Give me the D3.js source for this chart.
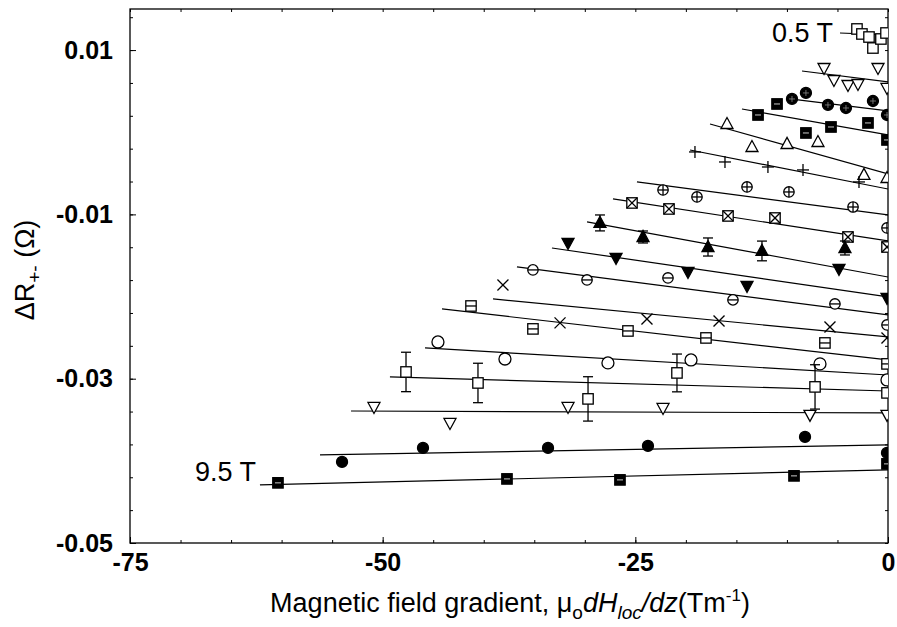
<!DOCTYPE html>
<html><head><meta charset="utf-8">
<script src="https://cdn.jsdelivr.net/npm/d3@7"></script>
<style>body{margin:0;background:#fff}text{font-family:"Liberation Sans",Arial,sans-serif}</style>
</head><body><svg id="c" width="897" height="627"></svg>
<script>
// ---- data ----
const markerTypes = ["sq","tridown","dotcross","sqfill","triup","plus","circplus","sqx","trifillup",
  "trifilldown","circminus","x","sqminus","circ","sq","tridown","dot","sqfill"];
const gradX = [
  [-3.07,-2.58,-1.88,-1.49,-0.70,-0.20],
  [-6.33,-5.35,-3.96,-2.97,-0.99,-0.10],
  [-9.5,-8.12,-5.94,-4.16,-1.49,-0.1],
  [-12.86,-10.98,-8.12,-5.64,-1.98,-0.1],
  [-15.93,-13.46,-9.99,-6.93,-2.38,-0.1],
  [-19.1,-16.13,-11.88,-8.41,-2.87],
  [-22.26,-18.9,-13.95,-9.8,-3.46,-0.1],
  [-25.33,-21.67,-15.83,-11.18,-3.96,-0.1],
  [-28.5,-24.24,-17.81,-12.47,-4.26],
  [-31.66,-26.91,-19.79,-13.95,-4.85,-0.1],
  [-35.13,-29.78,-21.77,-15.34,-5.25,-0.1],
  [-38.1,-32.45,-23.85,-16.72,-5.74,-0.1],
  [-41.26,-35.13,-25.73,-18.01,-6.24,-0.1],
  [-44.53,-37.9,-27.71,-19.49,-6.73,-0.1],
  [-47.69,-40.57,-29.68,-20.88,-7.22,-0.1],
  [-50.86,-43.34,-31.66,-22.26,-7.72,-0.1],
  [-54.02,-46.01,-33.64,-23.75,-8.21,-0.1],
  [-60.36,-37.7,-26.52,-9.3,-0.1]
];
const deltaR = [
  [0.01257,0.01196,0.01159,0.01025,0.01135,0.01208],
  [0.00782,0.00636,0.00575,0.00587,0.00782,0.00539],
  [0.00405,0.00478,0.00332,0.00295,0.0038,0.0021],
  [0.0021,0.00344,-0.00009,0.00064,0.00113,-0.00094],
  [0.001,-0.0018,-0.00143,-0.00119,-0.0052,-0.00557],
  [-0.0024,-0.00362,-0.00423,-0.00459,-0.00605],
  [-0.00703,-0.00788,-0.00666,-0.00727,-0.0091,-0.01165],
  [-0.00861,-0.00934,-0.01019,-0.01044,-0.01275,-0.01397],
  [-0.01104,-0.01275,-0.01397,-0.01445,-0.01409],
  [-0.01348,-0.0153,-0.01701,-0.01871,-0.01664,-0.02017],
  [-0.01676,-0.01798,-0.01774,-0.02041,-0.0209,-0.02346],
  [-0.01859,-0.02321,-0.02273,-0.02297,-0.0237,-0.02504],
  [-0.02115,-0.02394,-0.02419,-0.02504,-0.02565,-0.0282],
  [-0.02553,-0.0276,-0.02808,-0.02772,-0.0282,-0.03015],
  [-0.02918,-0.03052,-0.03246,-0.0293,-0.031,-0.03173],
  [-0.03344,-0.03539,-0.03344,-0.03356,-0.03441,-0.03441],
  [-0.04013,-0.03843,-0.03843,-0.03818,-0.03709,-0.03904],
  [-0.04268,-0.0422,-0.04232,-0.04183,-0.04037]
];
const errR = [null,null,null,null,null,null,null,null,
  [0.00097,0.00073,0.0011,0.0012,0.00085],
  null,null,null,null,null,
  [0.0024,0.0024,0.0027,0.0023,0.0027,0],
  null,null,null];
const fitStartX = [-4.75,-8.51,-9.7,-14.45,-17.61,-19.59,-24.84,-27.21,-29.78,-33.25,-36.71,-39.08,-44.13,-45.81,-49.28,-53.13,-56.2,-62.14];
const fitStartY = [0.01208,0.00745,0.00405,0.00283,0.001,-0.00216,-0.00605,-0.00812,-0.01092,-0.01409,-0.0164,-0.02029,-0.02151,-0.02626,-0.02979,-0.03393,-0.03928,-0.04293];
const fitEndY   = [0.01184,0.00612,0.00259,-0.00033,-0.00508,-0.00691,-0.01007,-0.01323,-0.01762,-0.02005,-0.02224,-0.02492,-0.02772,-0.02955,-0.0315,-0.03417,-0.03806,-0.0411];
const xMajor = [-75,-50,-25,0];
const yMajor = [0.01,-0.01,-0.03,-0.05];
const fieldLabels = ["0.5 T","9.5 T"];

// ---- layout ----
const svg = d3.select("#c");
const L=130,R=888,T=9,B=543;
const x = d3.scaleLinear().domain([-75,0]).range([L,R]);
const y = d3.scaleLinear().domain([-0.05,0.015]).range([B,T]);

svg.append("defs").append("clipPath").attr("id","pc")
  .append("rect").attr("x",L).attr("y",T).attr("width",R-L).attr("height",B-T);

const xMinor = d3.range(-75,0.01,5);
const yMinor = d3.range(-0.05,0.0151,0.004);

// axes with inward ticks
function axis(gen, tr, vals, size, fmt, pad){
  const g = svg.append("g").attr("transform",tr)
    .call(gen.tickValues(vals).tickSize(size).tickPadding(pad).tickFormat(fmt));
  g.select(".domain").remove();
  g.selectAll("line").attr("stroke","#000").attr("stroke-width",1);
  return g;
}
const none = ()=>"";
axis(d3.axisBottom(x),`translate(0,${B})`,xMinor,-3,none,0);
axis(d3.axisTop(x),`translate(0,${T})`,xMinor,-3,none,0);
axis(d3.axisLeft(y),`translate(${L},0)`,yMinor,-3,none,0);
axis(d3.axisRight(y),`translate(${R},0)`,yMinor,-3,none,0);
const xa = axis(d3.axisBottom(x),`translate(0,${B})`,xMajor,-6,d=>String(d),10);
const ya = axis(d3.axisLeft(y),`translate(${L},0)`,yMajor,-6,d=>String(d),17);
xa.selectAll("text").attr("font-size",25).attr("font-weight","bold").attr("fill","#000")
  .attr("font-family","'Liberation Sans',Arial,sans-serif");
ya.selectAll("text").attr("font-size",25).attr("font-weight","bold").attr("fill","#000")
  .attr("font-family","'Liberation Sans',Arial,sans-serif");

svg.append("rect").attr("x",L).attr("y",T).attr("width",R-L).attr("height",B-T)
  .attr("fill","none").attr("stroke","#000").attr("stroke-width",1.3);

// fit lines
const plot = svg.append("g").attr("clip-path","url(#pc)");
plot.selectAll("line.fit").data(fitStartX).join("line").attr("class","fit")
  .attr("x1",(d)=>x(d)).attr("y1",(d,i)=>y(fitStartY[i]))
  .attr("x2",x(0)).attr("y2",(d,i)=>y(fitEndY[i]))
  .attr("stroke","#000").attr("stroke-width",1.2);

// markers
function marker(g,type){
  const s=5.2, sw=1.3;
  const st = sel=>sel.attr("stroke","#000").attr("stroke-width",sw);
  const sq = (fill)=>st(g.append("rect").attr("x",-s).attr("y",-s).attr("width",2*s).attr("height",2*s).attr("fill",fill));
  const circ=(r,fill)=>st(g.append("circle").attr("r",r).attr("fill",fill));
  const ln=(a,b,c,d,col)=>g.append("line").attr("x1",a).attr("y1",b).attr("x2",c).attr("y2",d)
      .attr("stroke",col||"#000").attr("stroke-width",col?0.8:sw);
  const tri=(up,fill)=>st(g.append("path").attr("fill",fill)
      .attr("d",up?"M-6,4.5L6,4.5L0,-6.5Z":"M-6,-4.5L6,-4.5L0,6.5Z"));
  switch(type){
    case "sq": sq("#fff"); break;
    case "sqfill": sq("#000"); ln(-3,0,3,0,"#fff"); break;
    case "tridown": tri(false,"#fff"); break;
    case "triup": tri(true,"#fff"); break;
    case "trifillup": tri(true,"#000"); break;
    case "trifilldown": tri(false,"#000"); break;
    case "dotcross": circ(5.5,"#000"); ln(-3,0,3,0,"#888"); ln(0,-3,0,3,"#888"); break;
    case "dot": circ(5.5,"#000"); break;
    case "plus": ln(-6,0,6,0); ln(0,-6,0,6); break;
    case "x": ln(-5.5,-5.5,5.5,5.5); ln(-5.5,5.5,5.5,-5.5); break;
    case "circ": circ(6,"#fff"); break;
    case "circplus": circ(5.2,"#fff"); ln(-5.2,0,5.2,0); ln(0,-5.2,0,5.2); break;
    case "circminus": circ(5.2,"#fff"); ln(-5.2,0,5.2,0); break;
    case "sqx": sq("#fff"); ln(-s,-s,s,s); ln(-s,s,s,-s); break;
    case "sqminus": sq("#fff"); ln(-s,0,s,0); break;
  }
}
gradX.forEach((xs,si)=>{
  const gs = plot.append("g");
  xs.forEach((xv,pi)=>{
    const e = errR[si] ? errR[si][pi] : 0;
    if(e){
      const cx=x(xv), y1=y(deltaR[si][pi]+e), y2=y(deltaR[si][pi]-e);
      gs.append("line").attr("x1",cx).attr("x2",cx).attr("y1",y1).attr("y2",y2).attr("stroke","#000").attr("stroke-width",1.3);
      [y1,y2].forEach(yy=>gs.append("line").attr("x1",cx-5).attr("x2",cx+5).attr("y1",yy).attr("y2",yy).attr("stroke","#000").attr("stroke-width",1.3));
    }
    const g = gs.append("g").attr("transform",`translate(${x(xv)},${y(deltaR[si][pi])})`);
    marker(g, markerTypes[si]);
  });
});

// field annotations
svg.append("text").attr("x",x(fitStartX[0])-7).attr("y",y(fitStartY[0])+9).attr("text-anchor","end")
  .attr("font-size",27).text(fieldLabels[0]);
svg.append("text").attr("x",x(fitStartX[17])-4).attr("y",y(fitStartY[17])-4).attr("text-anchor","end")
  .attr("font-size",27).text(fieldLabels[1]);

// axis titles
const xt = svg.append("text").attr("x",510).attr("y",612).attr("text-anchor","middle").attr("font-size",27);
xt.append("tspan").text("Magnetic field gradient, μ");
xt.append("tspan").attr("dy",7).attr("font-size",19).text("o");
xt.append("tspan").attr("dy",-7).attr("font-style","italic").text("dH");
xt.append("tspan").attr("dy",7).attr("font-size",19).attr("font-style","italic").text("loc");
xt.append("tspan").attr("dy",-7).attr("font-style","italic").text("/dz");
xt.append("tspan").text("(Tm");
xt.append("tspan").attr("dy",-11).attr("font-size",17).text("-1");
xt.append("tspan").attr("dy",11).text(")");

const yt = svg.append("text").attr("transform","translate(34,270) rotate(-90)").attr("text-anchor","middle").attr("font-size",27);
yt.append("tspan").text("ΔR");
yt.append("tspan").attr("dy",7).attr("font-size",19).text("+-");
yt.append("tspan").attr("dy",-7).text(" (Ω)");
</script></body></html>
